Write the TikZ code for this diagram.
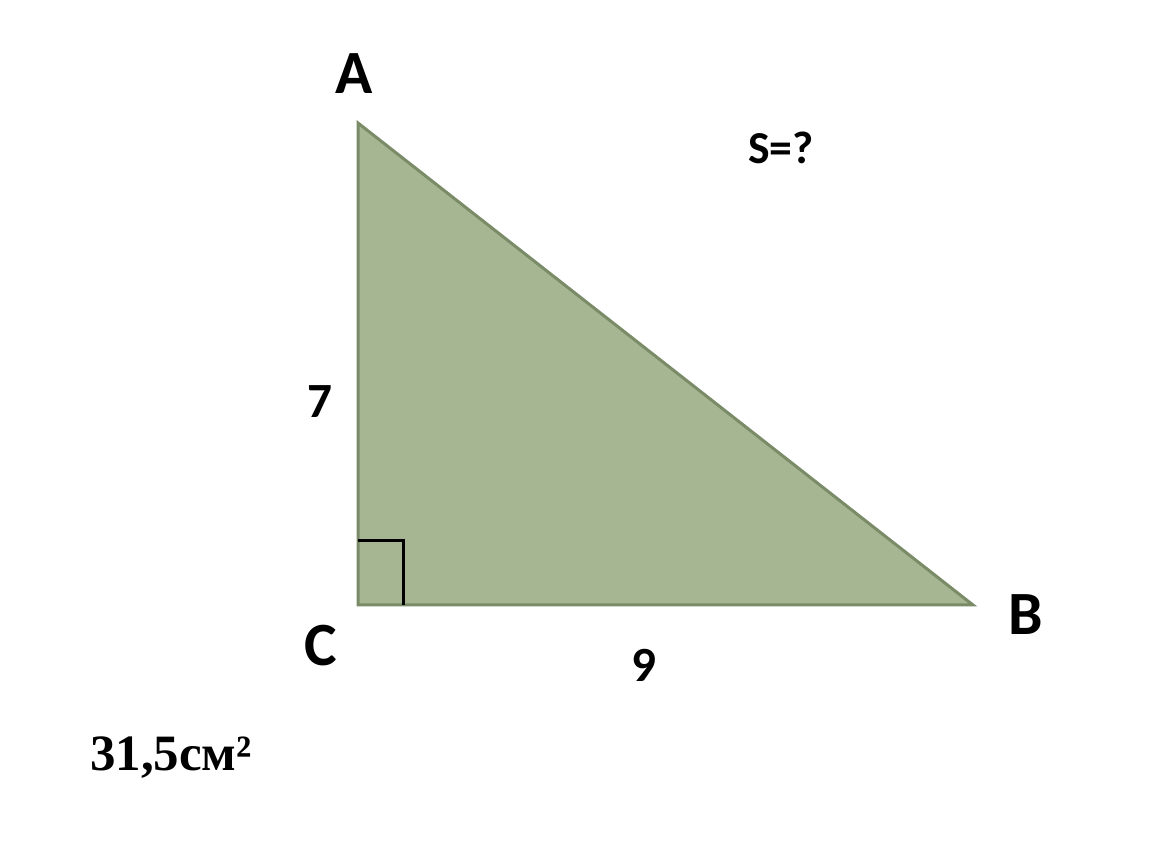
\documentclass[tikz,border=0pt]{standalone}
\usepackage{fontspec}
\setmainfont{Carlito}
\newfontfamily\timesfont{Liberation Serif}
\usepackage{tikz}
\definecolor{trifill}{RGB}{166,181,146}
\definecolor{triedge}{RGB}{122,139,104}
\tikzset{
	vlabel/.style={font=\fontsize{35}{40}\selectfont\bfseries, inner sep=0pt},
	slabel/.style={font=\fontsize{28}{32}\selectfont\bfseries, inner sep=0pt}
}

\begin{document}
\begin{tikzpicture}[x=0.02cm, y=-0.02cm]
		%%%%% START %%%%%
		
		\useasboundingbox (0, 0) rectangle (1150, 864);
		
		\coordinate (A) at (358, 123);
		\coordinate (B) at (973, 605);
		\coordinate (C) at (358, 605);
		
		\draw[fill=trifill, draw=triedge, line width=0.06cm] (A) -- (B) -- (C) -- cycle;
		\draw[line width=0.06cm] (358, 541) -- (403, 541) -- (403, 605);
		
		\node[vlabel] (lA) at (354, 74) {A};
		\node[vlabel] (lB) at (1026, 615) {B};
		\node[vlabel] (lC) at (321, 646) {C};
		
		\node[slabel] (l7) at (320, 402) {7};
		\node[slabel] (l9) at (644, 665) {9};
		\node[font=\fontsize{26}{30}\selectfont\bfseries, inner sep=0pt] (ask) at (781, 148) {S=?};
		
		\node[font=\timesfont\fontsize{29}{34}\selectfont\bfseries, inner sep=0pt] (ans) at (171, 758) {31,5см²};
		
		%%%%% END %%%%%
	\end{tikzpicture}
\end{document}
